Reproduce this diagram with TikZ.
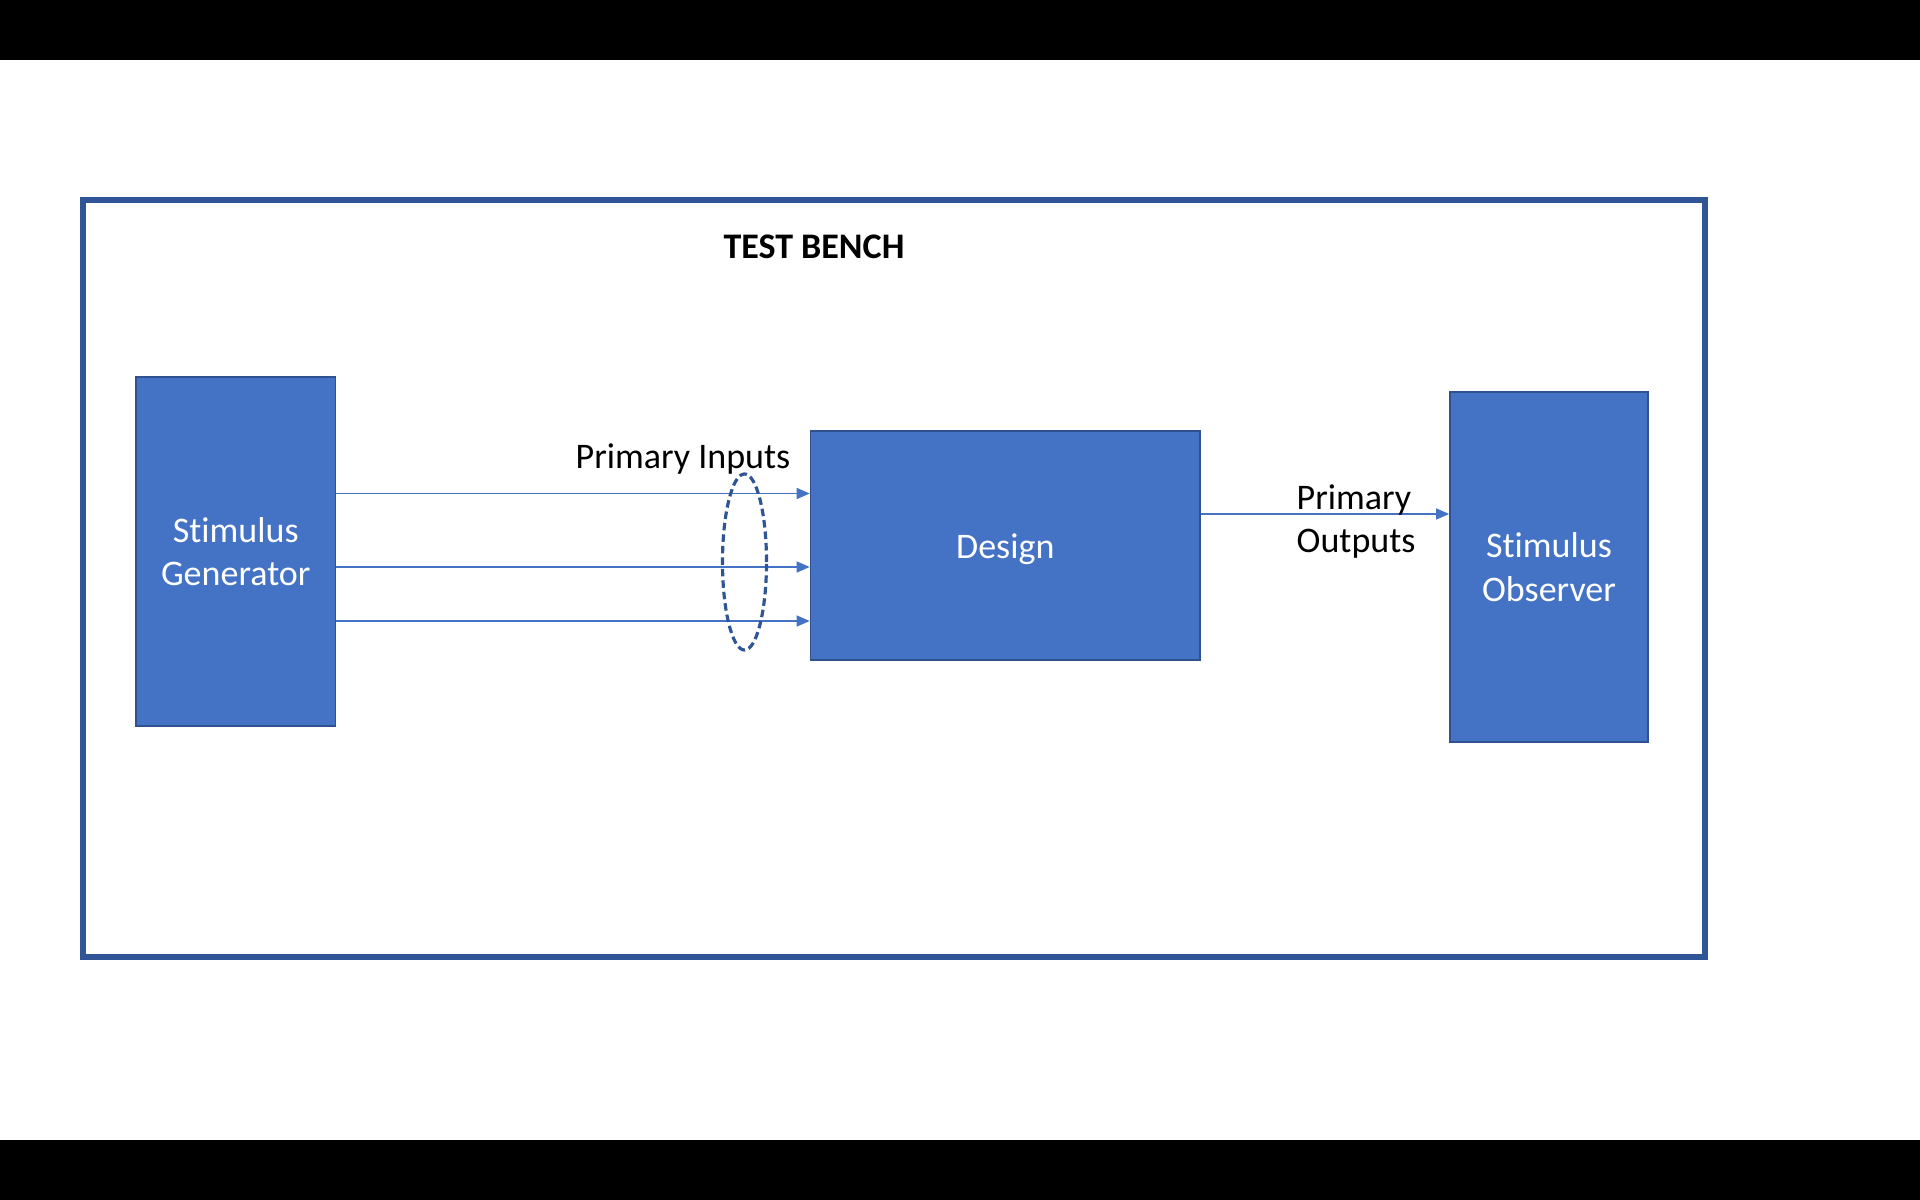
\documentclass[tikz,border=0pt]{standalone}
\usepackage{fontspec}
\setmainfont{Carlito}[Ligatures=NoCommon]
\usetikzlibrary{arrows.meta,shapes.geometric}
\definecolor{boxfill}{HTML}{4472C4}
\definecolor{boxline}{HTML}{2F528F}
\definecolor{framecol}{HTML}{2F5597}
\begin{document}
\begin{tikzpicture}[x=0.01cm,y=-0.01cm,
  font=\fontsize{10.24}{12.3}\selectfont,
  blk/.style={draw=boxline,line width=0.45pt,fill=boxfill,text=white,align=center,inner sep=0pt,anchor=center},
  arr/.style={draw=boxfill,line width=0.4pt,-{Triangle[length=0.13cm,width=0.11cm]}},
  lbl/.style={text=black,inner sep=0pt}]
% background and bars
\fill[white] (0,0) rectangle (1920,1200);
\fill[black] (0,0) rectangle (1920,60);
\fill[black] (0,1140) rectangle (1920,1200);
\useasboundingbox (0,0) rectangle (1920,1200);
% frame
\node[draw=framecol,line width=1.7pt,minimum width=16.22cm,minimum height=7.57cm,inner sep=0pt] (frame) at (894,578.5) {};
\node[lbl,font=\fontsize{10.24}{12.3}\selectfont\bfseries] (title) at (814,246.5) {TEST BENCH};
% blocks
\node[blk,minimum width=1.995cm,minimum height=3.49cm] (gen) at (235.75,551.5) {Stimulus\\Generator};
\node[blk,minimum width=3.894cm,minimum height=2.29cm] (design) at (1005.3,545.5) {};
\node[lbl,text=white] (designtxt) at ([yshift=-0.035cm]design.center) {Design};
\node[blk,minimum width=1.98cm,minimum height=3.50cm] (obs) at (1549,567) {Stimulus\\Observer};
% inputs
\draw[arr] (gen.east |- 0,493.5) -- (design.west |- 0,493.5);
\draw[arr] (gen.east |- 0,567) -- (design.west |- 0,567);
\draw[arr] (gen.east |- 0,621) -- (design.west |- 0,621);
\node[draw=framecol,dashed,dash pattern=on 0.075cm off 0.04cm,line width=0.9pt,ellipse,minimum width=0.44cm,minimum height=1.76cm,inner sep=0pt] (bundle) at (744.5,562) {};
\node[lbl] (pin) at (683,459) {Primary Inputs};
% output
\draw[arr] (design.east |- 0,514) -- (obs.west |- 0,514);
\node[lbl,align=left,anchor=west] (pout) at (1296,521.5) {Primary\\Outputs};
\end{tikzpicture}
\end{document}
